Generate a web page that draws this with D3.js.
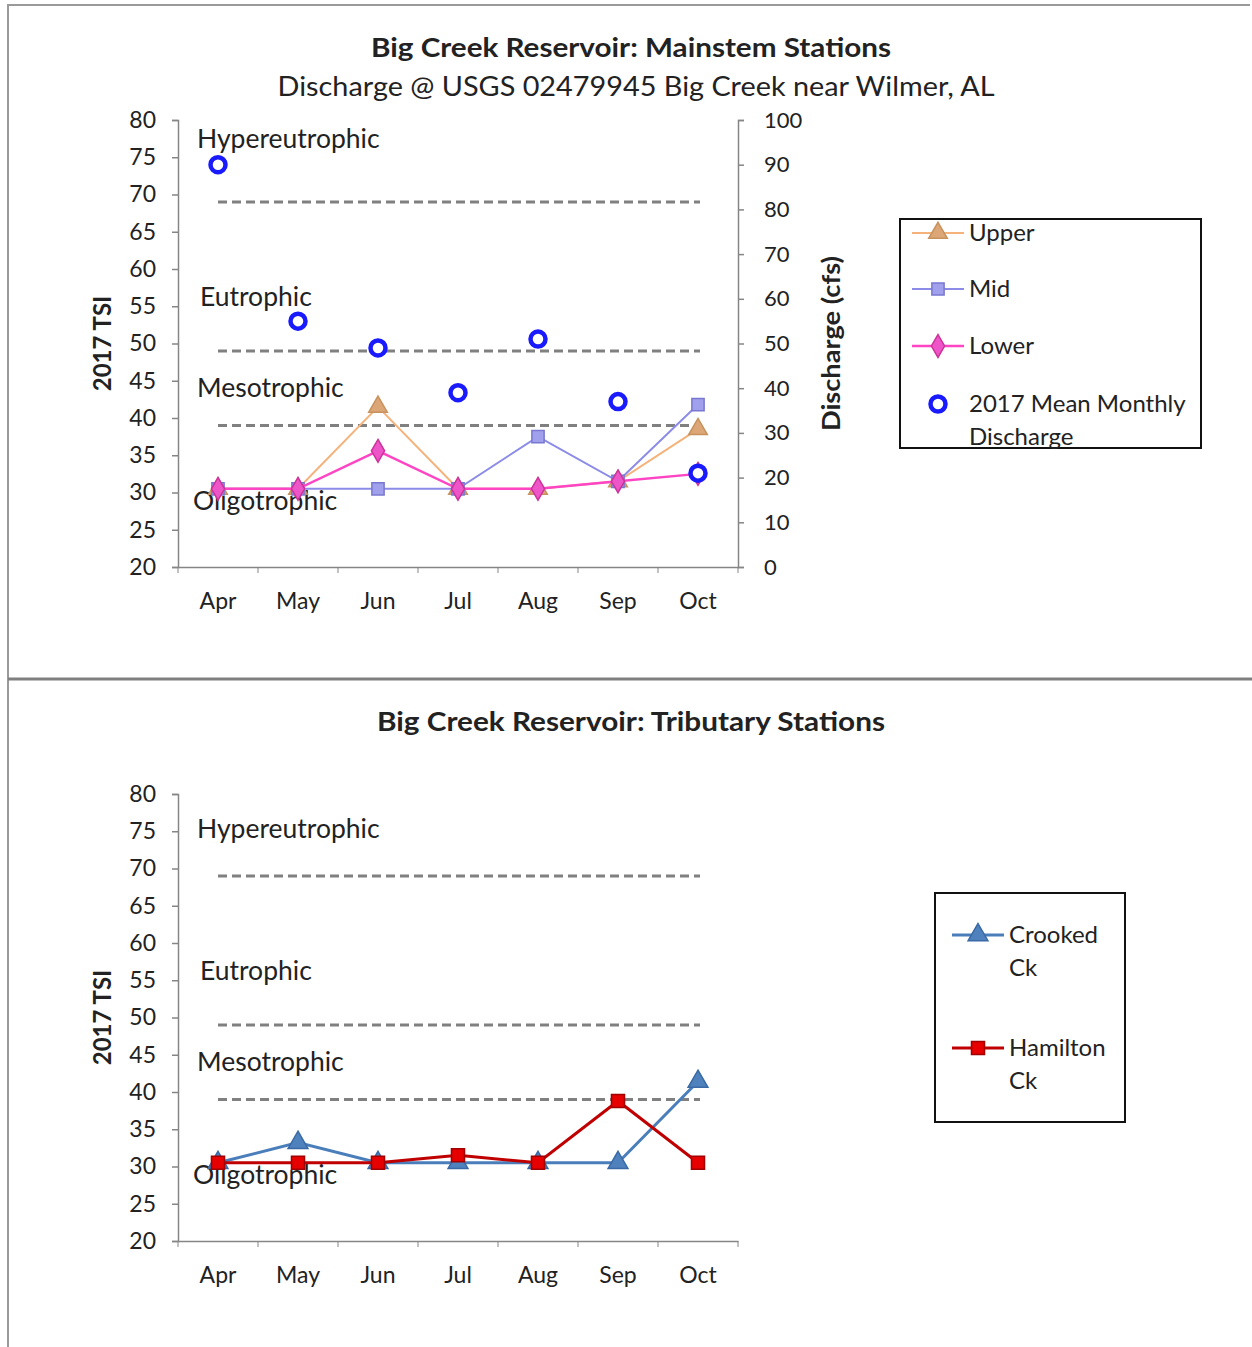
<!DOCTYPE html>
<html lang="en">
<head>
<meta charset="UTF-8">
<title>Big Creek Reservoir TSI</title>
<script src="https://cdn.jsdelivr.net/npm/d3@7"></script>
<style>
  body { margin: 0; background: #fff; }
  svg text { font-family: Lato, "Open Sans", sans-serif; fill: #222; }
</style>
</head>
<body>
<svg width="1252" height="1347" id="svgcontainer"></svg>
<script>
    const months = ['Apr', 'May', 'Jun', 'Jul', 'Aug', 'Sep', 'Oct'];
    const tsiTicks = [20, 25, 30, 35, 40, 45, 50, 55, 60, 65, 70, 75, 80];
    const dischargeTicks = [0, 10, 20, 30, 40, 50, 60, 70, 80, 90, 100];

    // trophic thresholds (dashed lines) and zone labels
    const thresholds = [69, 49, 39];
    const zoneNames = ['Hypereutrophic', 'Eutrophic', 'Mesotrophic', 'Oligotrophic'];
    const zoneLabelTop = [77.5, 56.3, 44, 28.8];
    const zoneLabelBottom = [75.3, 56.3, 44, 28.8];

    // mainstem stations
    const upper = [30.5, 30.5, 41.5, 30.5, 30.5, 31.5, 38.5];
    const mid = [30.5, 30.5, 30.5, 30.5, 37.5, 31.5, 41.8];
    const lower = [30.5, 30.5, 35.6, 30.5, 30.5, 31.5, 32.5];
    const discharge = [90, 55, 49, 39, 51, 37, 21];

    // tributary stations
    const crooked = [30.5, 33.2, 30.5, 30.5, 30.5, 30.5, 41.4];
    const hamilton = [30.5, 30.5, 30.5, 31.5, 30.5, 38.8, 30.5];

    const svg = d3.select('#svgcontainer');

    // panel frame
    svg.append('path').attr('d', 'M8,1347 V5 H1250').attr('fill', 'none').attr('stroke', '#9a9a9a').attr('stroke-width', 2);
    svg.append('line').attr('x1', 8).attr('x2', 1252).attr('y1', 679).attr('y2', 679).attr('stroke', '#7f7f7f').attr('stroke-width', 3);

    function panel(top, labelAt) {
        const left = 178, right = 738;
        const y0 = top, y1 = top + 447;
        const x = d3.scaleBand().domain(months).range([left, right]);
        const y = d3.scaleLinear().domain([20, 80]).range([y1, y0]);
        const cx = m => x(m) + x.bandwidth() / 2;

        const g = svg.append('g');

        // left axis
        const yAxis = g.append('g').attr('transform', `translate(${left},0)`)
            .call(d3.axisLeft(y).tickValues(tsiTicks).tickSize(6).tickPadding(16));
        yAxis.selectAll('text').attr('font-size', 23).attr('fill', '#222');

        // x axis, ticks between categories
        const xAxis = g.append('g').attr('transform', `translate(0,${y1})`)
            .call(d3.axisBottom(x).tickSize(0).tickPadding(26));
        xAxis.selectAll('text').attr('font-size', 23).attr('fill', '#222');
        xAxis.selectAll('.between').data(months.concat(['end'])).join('line')
            .attr('x1', (d, i) => left + i * x.bandwidth()).attr('x2', (d, i) => left + i * x.bandwidth())
            .attr('y1', 0).attr('y2', 6).attr('stroke', '#868686');

        g.selectAll('.domain, .tick line').attr('stroke', '#868686').attr('stroke-width', 1.5);

        g.append('text').attr('transform', `translate(111,${(y0 + y1) / 2}) rotate(-90)`)
            .attr('text-anchor', 'middle').attr('font-weight', 'bold').attr('font-size', 24).text('2017 TSI');

        // thresholds
        g.selectAll('.thr').data(thresholds).join('line')
            .attr('x1', cx('Apr')).attr('x2', cx('Oct') + 2)
            .attr('y1', d => y(d)).attr('y2', d => y(d))
            .attr('stroke', '#808080').attr('stroke-width', 3).attr('stroke-dasharray', '9,5');

        g.selectAll('.zone').data(zoneNames).join('text')
            .attr('x', (d, i) => i === 3 ? 193 : (i === 1 ? 200 : 197))
            .attr('y', (d, i) => y(labelAt[i]) + 9)
            .attr('font-size', 26.5).text(d => d);

        return {g, x, y, cx, y0, y1};
    }

    function series(p, values, color, width, shape, fill, size, stroke) {
        const line = d3.line().x((d, i) => p.cx(months[i])).y(d => p.y(d));
        p.g.append('path').datum(values).attr('d', line)
            .attr('fill', 'none').attr('stroke', color).attr('stroke-width', width);
        p.g.selectAll(null).data(values).join('path')
            .attr('transform', (d, i) => `translate(${p.cx(months[i])},${p.y(d)})`)
            .attr('d', d3.symbol(shape, size)())
            .attr('fill', fill).attr('stroke', stroke).attr('stroke-width', 1.5);
    }

    function legendItem(x0, yy, color, width, shape, fill, size, stroke, lines, len) {
        svg.append('line').attr('x1', x0).attr('x2', x0 + len).attr('y1', yy).attr('y2', yy)
            .attr('stroke', color).attr('stroke-width', width);
        svg.append('path').attr('transform', `translate(${x0 + len / 2},${yy})`)
            .attr('d', d3.symbol(shape, size)()).attr('fill', fill).attr('stroke', stroke).attr('stroke-width', 1.5);
        lines.forEach((t, i) => svg.append('text').attr('x', x0 + len + 5).attr('y', yy + 8 + i * 33)
            .attr('font-size', 24).text(t));
    }

    // ---------- top chart ----------
    svg.append('text').attr('x', 631).attr('y', 57).attr('text-anchor', 'middle')
        .attr('font-weight', 'bold').attr('font-size', 27).attr('textLength', 520).attr('lengthAdjust', 'spacingAndGlyphs')
        .text('Big Creek Reservoir: Mainstem Stations');
    svg.append('text').attr('x', 636).attr('y', 96).attr('text-anchor', 'middle')
        .attr('font-size', 27).attr('textLength', 717).attr('lengthAdjust', 'spacingAndGlyphs')
        .text('Discharge @ USGS 02479945 Big Creek near Wilmer, AL');

    const p1 = panel(120, zoneLabelTop);
    const yQ = d3.scaleLinear().domain([0, 100]).range([p1.y1, p1.y0]);
    const rAxis = p1.g.append('g').attr('transform', 'translate(738,0)')
        .call(d3.axisRight(yQ).tickValues(dischargeTicks).tickSize(6).tickPadding(20));
    rAxis.selectAll('text').attr('font-size', 22).attr('fill', '#222');
    rAxis.selectAll('.domain, .tick line').attr('stroke', '#868686').attr('stroke-width', 1.5);
    p1.g.append('text').attr('transform', `translate(840,${(p1.y0 + p1.y1) / 2}) rotate(-90)`)
        .attr('text-anchor', 'middle').attr('font-weight', 'bold').attr('font-size', 25)
        .attr('textLength', 175).attr('lengthAdjust', 'spacingAndGlyphs').text('Discharge (cfs)');

    series(p1, upper, '#f5b27a', 2, d3.symbolTriangle, '#dca676', 150, '#c8925e');
    series(p1, mid, '#8c8ce8', 2, d3.symbolSquare, '#a0a0ec', 150, '#7878d0');
    series(p1, lower, '#ff44c4', 2.5, d3.symbolDiamond, '#ee55c8', 150, '#cc3399');

    p1.g.selectAll('.q').data(discharge).join('circle')
        .attr('cx', (d, i) => p1.cx(months[i])).attr('cy', d => yQ(d)).attr('r', 7.5)
        .attr('fill', '#fff').attr('stroke', '#1a1aff').attr('stroke-width', 4.5);

    svg.append('rect').attr('x', 900).attr('y', 219).attr('width', 301).attr('height', 229)
        .attr('fill', 'none').attr('stroke', '#111').attr('stroke-width', 2);
    legendItem(912, 233, '#f5b27a', 2, d3.symbolTriangle, '#dca676', 150, '#c8925e', ['Upper'], 52);
    legendItem(912, 289, '#8c8ce8', 2, d3.symbolSquare, '#a0a0ec', 150, '#7878d0', ['Mid'], 52);
    legendItem(912, 346, '#ff44c4', 2.5, d3.symbolDiamond, '#ee55c8', 150, '#cc3399', ['Lower'], 52);
    svg.append('circle').attr('cx', 938).attr('cy', 404).attr('r', 7.5)
        .attr('fill', '#fff').attr('stroke', '#1a1aff').attr('stroke-width', 4.5);
    ['2017 Mean Monthly', 'Discharge'].forEach((t, i) => svg.append('text')
        .attr('x', 969).attr('y', 412 + i * 33).attr('font-size', 24).text(t));

    // ---------- bottom chart ----------
    svg.append('text').attr('x', 631).attr('y', 731).attr('text-anchor', 'middle')
        .attr('font-weight', 'bold').attr('font-size', 27).attr('textLength', 508).attr('lengthAdjust', 'spacingAndGlyphs')
        .text('Big Creek Reservoir: Tributary Stations');

    const p2 = panel(794, zoneLabelBottom);
    series(p2, crooked, '#4a7ebb', 3, d3.symbolTriangle, '#4f81bd', 170, '#3a6aa5');
    series(p2, hamilton, '#c00000', 3, d3.symbolSquare, '#e60000', 170, '#a00000');

    svg.append('rect').attr('x', 935).attr('y', 893).attr('width', 190).attr('height', 229)
        .attr('fill', 'none').attr('stroke', '#111').attr('stroke-width', 2);
    legendItem(952, 935, '#4a7ebb', 3, d3.symbolTriangle, '#4f81bd', 170, '#3a6aa5', ['Crooked', 'Ck'], 52);
    legendItem(952, 1048, '#c00000', 3, d3.symbolSquare, '#e60000', 170, '#a00000', ['Hamilton', 'Ck'], 52);
</script>
</body>
</html>
